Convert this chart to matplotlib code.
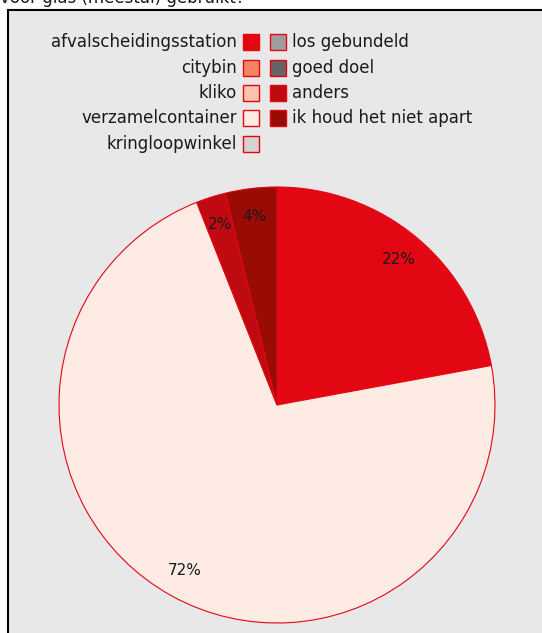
import matplotlib.pyplot as plt
from matplotlib.patches import Rectangle

W, H = 542, 633

title = "voor glas (meestal) gebruikt?"
labels = ["afvalscheidingsstation", "citybin", "kliko", "verzamelcontainer",
          "kringloopwinkel", "los gebundeld", "goed doel", "anders",
          "ik houd het niet apart"]
values = [22.1, 0, 0, 71.9, 0, 0, 0, 2.2, 3.8]
colors = ["#e30613", "#f28363", "#fbc3ad", "#fdebe4", "#d3d3d3",
          "#9e9e9e", "#646464", "#c00a12", "#9b0b05"]
edge_red = "#e30613"

fig = plt.figure(figsize=(W / 100, H / 100), dpi=100)
fig.patch.set_facecolor("white")

def px(x, y):
    # pixel coords (top-left origin) -> figure fraction
    return x / W, 1 - y / H

# grey panel with black border, runs off right and bottom edges
x0, y0 = px(8, 10)
fig.patches.append(Rectangle((x0, -0.05), 1.1, y0 + 0.05, transform=fig.transFigure,
                             facecolor="#e8e8e8", edgecolor="black", lw=1.5, zorder=0))

# title, cut off at top of image like the reference
tx, ty = px(0, 3)
fig.text(tx, ty, title, fontsize=12, color="#1a1a1a", va="baseline", ha="left")

# pie
cx, cy, r = 277, 405, 218
ax = fig.add_axes([(cx - r) / W, (H - cy - r) / H, 2 * r / W, 2 * r / H], zorder=2)
ax.set_facecolor("none")
nz = [(v, c) for v, c in zip(values, colors) if v > 0]
wedges, texts, autotexts = ax.pie([v for v, c in nz], colors=[c for v, c in nz],
                                  startangle=90, counterclock=False,
                                  autopct=lambda p: f"{p:.0f}%", pctdistance=0.87,
                                  wedgeprops=dict(edgecolor=edge_red, linewidth=0.8),
                                  textprops=dict(fontsize=11, color="#1a1a1a"))
ax.set_xlim(-1, 1)
ax.set_ylim(-1, 1)
ax.set_aspect("equal")
ax.axis("off")

# legend, two columns
row_y = [42, 68, 93, 118, 144]
sq = 16
left = list(zip(labels[:5], colors[:5]))
right = list(zip(labels[5:], colors[5:]))
for i, (lab, col) in enumerate(left):
    y = row_y[i]
    bx, by = px(243, y + sq / 2)
    fig.patches.append(Rectangle((bx, by), sq / W, sq / H, transform=fig.transFigure,
                                 facecolor=col, edgecolor=edge_red, lw=1.0))
    lx, ly = px(237, y)
    fig.text(lx, ly, lab, fontsize=12, color="#1a1a1a", ha="right", va="center")
for i, (lab, col) in enumerate(right):
    y = row_y[i]
    bx, by = px(270, y + sq / 2)
    fig.patches.append(Rectangle((bx, by), sq / W, sq / H, transform=fig.transFigure,
                                 facecolor=col, edgecolor=edge_red, lw=1.0))
    lx, ly = px(292, y)
    fig.text(lx, ly, lab, fontsize=12, color="#1a1a1a", ha="left", va="center")

fig.savefig("out.png", dpi=100)
